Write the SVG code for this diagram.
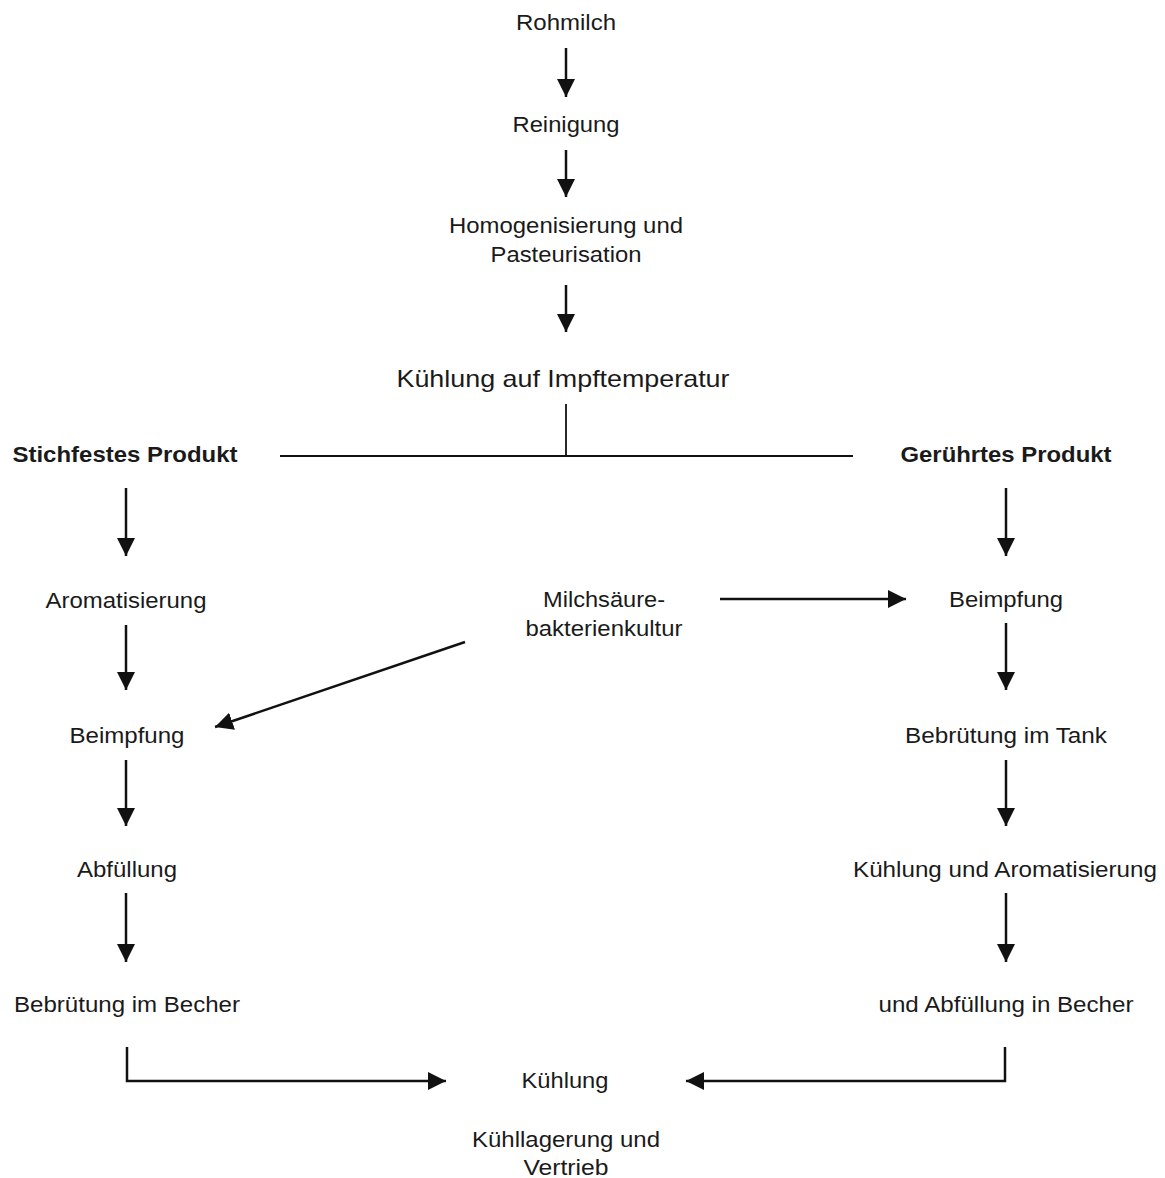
<svg xmlns="http://www.w3.org/2000/svg" width="1165" height="1178" viewBox="0 0 1165 1178">
<defs>
<marker id="ah" markerUnits="userSpaceOnUse" markerWidth="18" markerHeight="18" viewBox="0 0 16 16" refX="16" refY="8" orient="auto">
<path d="M0,0 L16,8 L0,16 Z" fill="#111"/>
</marker>
<style>
text{font-family:"Liberation Sans",Arial,sans-serif;font-size:22px;fill:#1a1a1a;text-anchor:middle}
.b{font-weight:bold}
.big{font-size:24px}
.c{stroke:#111;stroke-width:2.5;fill:none}
.a{marker-end:url(#ah)}
.t{stroke:#111;stroke-width:1.8;fill:none}
</style>
</defs>
<rect width="1165" height="1178" fill="#fff"/>
<g id="connectors">
<line class="c a" x1="566" y1="48" x2="566" y2="97"/>
<line class="c a" x1="566" y1="150" x2="566" y2="197"/>
<line class="c a" x1="566" y1="285" x2="566" y2="332"/>
<line class="t" x1="566" y1="404" x2="566" y2="456"/>
<line class="t" x1="280" y1="456" x2="853" y2="456"/>
<line class="c a" x1="126" y1="488" x2="126" y2="556"/>
<line class="c a" x1="126" y1="625" x2="126" y2="690"/>
<line class="c a" x1="126" y1="760" x2="126" y2="826"/>
<line class="c a" x1="126" y1="893" x2="126" y2="962"/>
<line class="c a" x1="1006" y1="488" x2="1006" y2="556"/>
<line class="c a" x1="1006" y1="623" x2="1006" y2="690"/>
<line class="c a" x1="1006" y1="760" x2="1006" y2="826"/>
<line class="c a" x1="1006" y1="893" x2="1006" y2="962"/>
<line class="c a" x1="720" y1="599" x2="906" y2="599"/>
<line class="c a" x1="465" y1="642" x2="215" y2="727"/>
<polyline class="c a" points="127,1047 127,1081 446,1081"/>
<polyline class="c a" points="1005,1047 1005,1081 686,1081"/>
</g>
<g id="n-rohmilch"><text x="566" y="30" textLength="100" lengthAdjust="spacingAndGlyphs">Rohmilch</text></g>
<g id="n-reinigung"><text x="566" y="132" textLength="107" lengthAdjust="spacingAndGlyphs">Reinigung</text></g>
<g id="n-homogen"><text x="566" y="233" textLength="234" lengthAdjust="spacingAndGlyphs">Homogenisierung und</text><text x="566" y="262" textLength="151" lengthAdjust="spacingAndGlyphs">Pasteurisation</text></g>
<g id="n-kuehlung-impf"><text class="big" x="563" y="387" textLength="333" lengthAdjust="spacingAndGlyphs">Kühlung auf Impftemperatur</text></g>
<g id="n-stichfest"><text class="b" x="125" y="462" textLength="225" lengthAdjust="spacingAndGlyphs">Stichfestes Produkt</text></g>
<g id="n-geruehrt"><text class="b" x="1006" y="462" textLength="211" lengthAdjust="spacingAndGlyphs">Gerührtes Produkt</text></g>
<g id="n-aroma-l"><text x="126" y="608" textLength="161" lengthAdjust="spacingAndGlyphs">Aromatisierung</text></g>
<g id="n-beimpf-l"><text x="127" y="743" textLength="115" lengthAdjust="spacingAndGlyphs">Beimpfung</text></g>
<g id="n-abfuell-l"><text x="127" y="877" textLength="100" lengthAdjust="spacingAndGlyphs">Abfüllung</text></g>
<g id="n-bebr-becher"><text x="127" y="1012" textLength="226" lengthAdjust="spacingAndGlyphs">Bebrütung im Becher</text></g>
<g id="n-kultur"><text x="604" y="607" textLength="122" lengthAdjust="spacingAndGlyphs">Milchsäure-</text><text x="604" y="636" textLength="157" lengthAdjust="spacingAndGlyphs">bakterienkultur</text></g>
<g id="n-beimpf-r"><text x="1006" y="607" textLength="114" lengthAdjust="spacingAndGlyphs">Beimpfung</text></g>
<g id="n-bebr-tank"><text x="1006" y="743" textLength="202" lengthAdjust="spacingAndGlyphs">Bebrütung im Tank</text></g>
<g id="n-kuehl-aroma"><text x="1005" y="877" textLength="304" lengthAdjust="spacingAndGlyphs">Kühlung und Aromatisierung</text></g>
<g id="n-abfuell-r"><text x="1006" y="1012" textLength="255" lengthAdjust="spacingAndGlyphs">und Abfüllung in Becher</text></g>
<g id="n-kuehlung"><text x="565" y="1088" textLength="87" lengthAdjust="spacingAndGlyphs">Kühlung</text></g>
<g id="n-lagerung"><text x="566" y="1147" textLength="188" lengthAdjust="spacingAndGlyphs">Kühllagerung und</text><text x="566" y="1175" textLength="85" lengthAdjust="spacingAndGlyphs">Vertrieb</text></g>
</svg>
